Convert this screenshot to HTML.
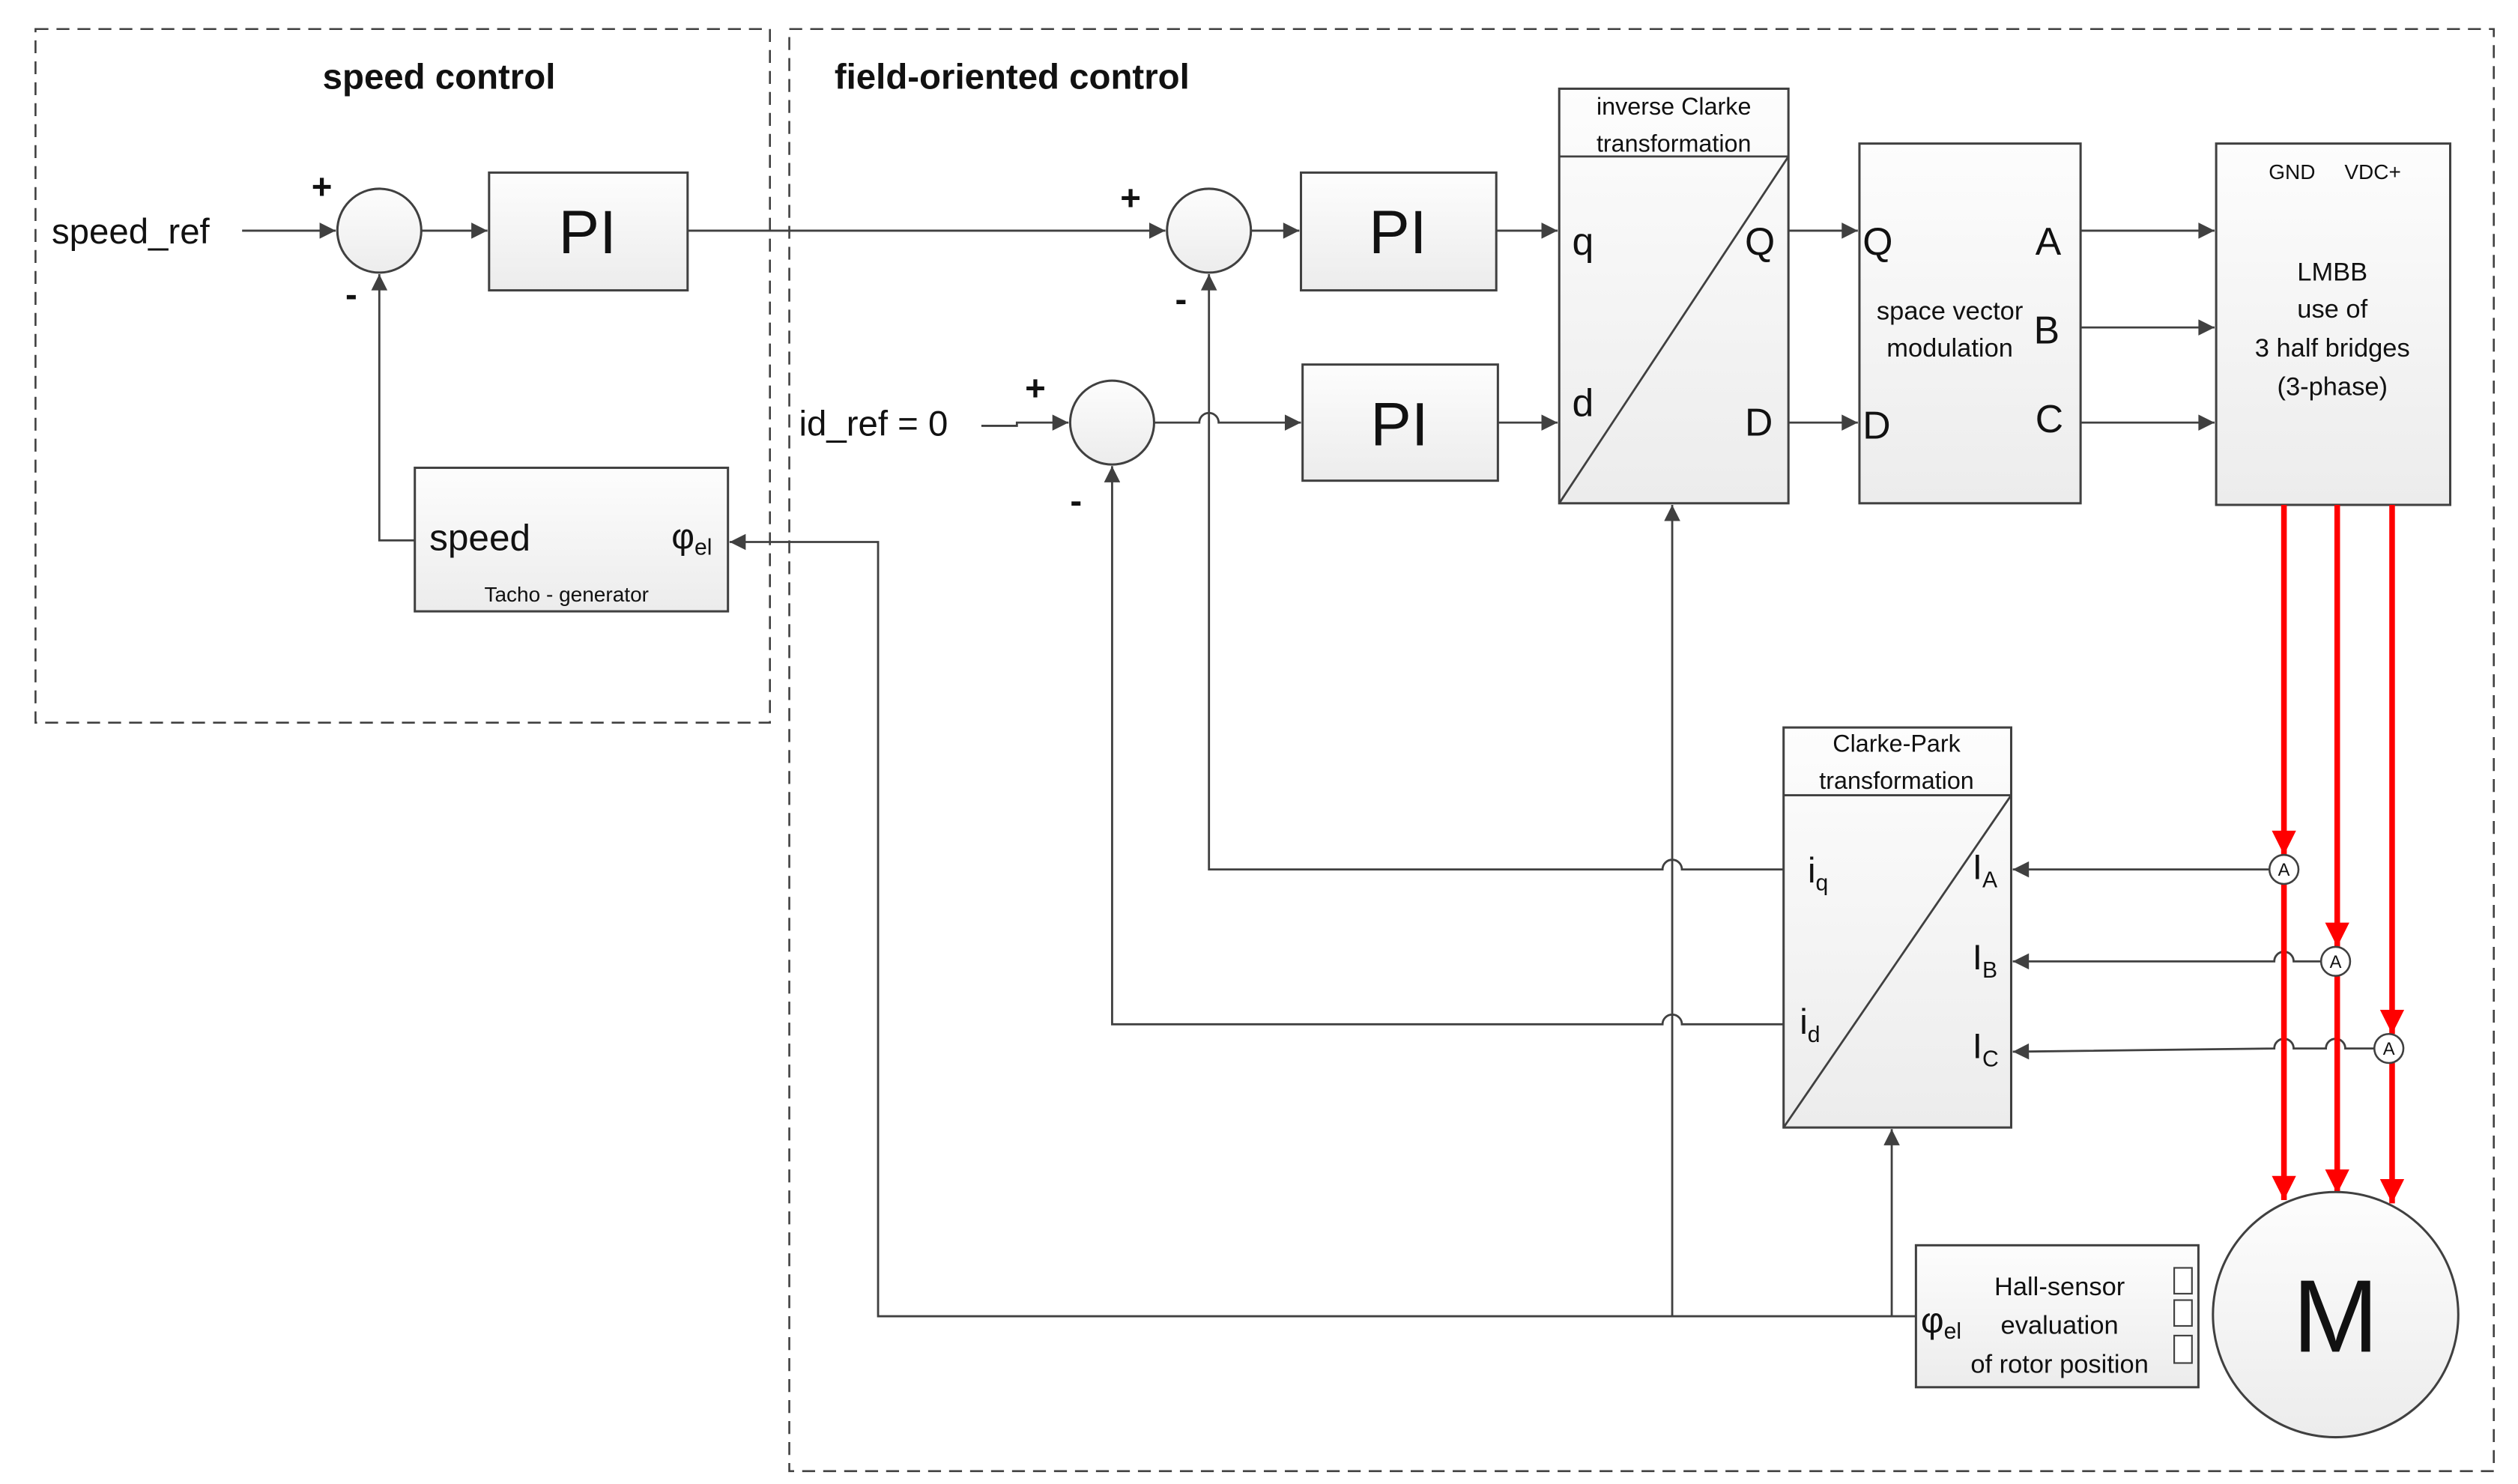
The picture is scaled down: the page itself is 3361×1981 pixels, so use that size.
<!DOCTYPE html>
<html><head><meta charset="utf-8"><style>
html,body{margin:0;padding:0;background:#fff}
svg{display:block}
text{font-family:"Liberation Sans Narrow","Liberation Sans",sans-serif;fill:#111}
</style></head><body>
<svg width="3361" height="1981" viewBox="0 0 1560 920" preserveAspectRatio="none" xmlns="http://www.w3.org/2000/svg">
<defs>
<linearGradient id="g" x1="0" y1="0" x2="0" y2="1"><stop offset="0" stop-color="#fdfdfd"/><stop offset="1" stop-color="#ececec"/></linearGradient>
<marker id="a" viewBox="0 0 10 10" refX="10" refY="5" markerWidth="11" markerHeight="10" orient="auto" markerUnits="userSpaceOnUse"><path d="M0,0 L10,5 L0,10 z" fill="#404040"/></marker>
<marker id="ar" viewBox="0 0 10 10" refX="10" refY="5" markerWidth="16" markerHeight="15" orient="auto" markerUnits="userSpaceOnUse"><path d="M0,0 L10,5 L0,10 z" fill="#f00"/></marker>
</defs>
<style>
.b{fill:url(#g);stroke:#404040;stroke-width:1.4}
.l{fill:none;stroke:#404040;stroke-width:1.3}
.r{fill:none;stroke:#f00;stroke-width:3.5}
.d{fill:none;stroke:#404040;stroke-width:1.2;stroke-dasharray:8,5}
</style>
<rect class="d" x="22" y="18" width="455" height="430"/>
<rect class="d" x="489" y="18" width="1056" height="894"/>
<text x="272" y="55" font-size="22" font-weight="bold" text-anchor="middle" style="font-family:'Liberation Sans',sans-serif">speed control</text>
<text x="517" y="55" font-size="22" font-weight="bold" style="font-family:'Liberation Sans',sans-serif">field-oriented control</text>

<text x="32" y="151" font-size="22">speed_ref</text>
<line class="l" x1="150" y1="143" x2="208" y2="143" marker-end="url(#a)"/>
<ellipse class="b" cx="235" cy="143" rx="26" ry="26"/>
<text x="193" y="123" font-size="22" font-weight="bold">+</text>
<text x="214" y="190" font-size="22" font-weight="bold">-</text>
<line class="l" x1="261" y1="143" x2="302" y2="143" marker-end="url(#a)"/>
<rect class="b" x="303" y="107" width="123" height="73"/>
<text x="364" y="157" font-size="38" text-anchor="middle">PI</text>
<line class="l" x1="426" y1="143" x2="722" y2="143" marker-end="url(#a)"/>

<rect class="b" x="257" y="290" width="194" height="89"/>
<text x="266" y="341" font-size="23">speed</text>
<text x="416" y="340" font-size="22">φ<tspan font-size="14" dy="4">el</tspan></text>
<text x="351" y="373" font-size="13" text-anchor="middle">Tacho - generator</text>
<polyline class="l" points="257,335 235,335 235,170" marker-end="url(#a)"/>

<ellipse class="b" cx="749" cy="143" rx="26" ry="26"/>
<text x="694" y="130" font-size="22" font-weight="bold">+</text>
<text x="728" y="193" font-size="22" font-weight="bold">-</text>
<line class="l" x1="775" y1="143" x2="805" y2="143" marker-end="url(#a)"/>
<rect class="b" x="806" y="107" width="121" height="73"/>
<text x="866" y="157" font-size="38" text-anchor="middle">PI</text>
<line class="l" x1="927" y1="143" x2="965" y2="143" marker-end="url(#a)"/>

<text x="495" y="270" font-size="22">id_ref = 0</text>
<polyline class="l" points="608,264 630,264 630,262 662,262" marker-end="url(#a)"/>
<ellipse class="b" cx="689" cy="262" rx="26" ry="26"/>
<text x="635" y="248" font-size="22" font-weight="bold">+</text>
<text x="663" y="318" font-size="22" font-weight="bold">-</text>
<path class="l" d="M715,262 L743,262 A6,6 0 0 1 755,262 L806,262" marker-end="url(#a)"/>
<rect class="b" x="807" y="226" width="121" height="72"/>
<text x="867" y="276" font-size="38" text-anchor="middle">PI</text>
<line class="l" x1="928" y1="262" x2="965" y2="262" marker-end="url(#a)"/>

<rect class="b" x="966" y="55" width="142" height="257"/>
<line class="l" x1="966" y1="97" x2="1108" y2="97"/>
<line class="l" x1="966" y1="312" x2="1108" y2="97"/>
<text x="1037" y="71" font-size="15" text-anchor="middle">inverse Clarke</text>
<text x="1037" y="94" font-size="15" text-anchor="middle">transformation</text>
<text x="974" y="158" font-size="24">q</text>
<text x="974" y="258" font-size="24">d</text>
<text x="1081" y="158" font-size="24">Q</text>
<text x="1081" y="270" font-size="24">D</text>
<line class="l" x1="1108" y1="143" x2="1151" y2="143" marker-end="url(#a)"/>
<line class="l" x1="1108" y1="262" x2="1151" y2="262" marker-end="url(#a)"/>

<rect class="b" x="1152" y="89" width="137" height="223"/>
<text x="1154" y="158" font-size="24">Q</text>
<text x="1154" y="272" font-size="24">D</text>
<text x="1261" y="158" font-size="24">A</text>
<text x="1260" y="213" font-size="24">B</text>
<text x="1261" y="268" font-size="24">C</text>
<text x="1208" y="198" font-size="16" text-anchor="middle">space vector</text>
<text x="1208" y="221" font-size="16" text-anchor="middle">modulation</text>
<line class="l" x1="1289" y1="143" x2="1372" y2="143" marker-end="url(#a)"/>
<line class="l" x1="1289" y1="203" x2="1372" y2="203" marker-end="url(#a)"/>
<line class="l" x1="1289" y1="262" x2="1372" y2="262" marker-end="url(#a)"/>

<rect class="b" x="1373" y="89" width="145" height="224"/>
<text x="1420" y="111" font-size="13" text-anchor="middle">GND</text>
<text x="1470" y="111" font-size="13" text-anchor="middle">VDC+</text>
<text x="1445" y="174" font-size="16" text-anchor="middle">LMBB</text>
<text x="1445" y="197" font-size="16" text-anchor="middle">use of</text>
<text x="1445" y="221" font-size="16" text-anchor="middle">3 half bridges</text>
<text x="1445" y="245" font-size="16" text-anchor="middle">(3-phase)</text>

<path class="l" d="M1105,539 L1042,539 A6,6 0 0 0 1030,539 L749,539 L749,170" marker-end="url(#a)"/>
<path class="l" d="M1105,635 L1042,635 A6,6 0 0 0 1030,635 L689,635 L689,289" marker-end="url(#a)"/>
<line class="l" x1="1036" y1="816" x2="1036" y2="313" marker-end="url(#a)"/>
<line class="l" x1="1172" y1="816" x2="1172" y2="700" marker-end="url(#a)"/>
<polyline class="l" points="1187,816 544,816 544,336 452,336" marker-end="url(#a)"/>

<rect class="b" x="1105" y="451" width="141" height="248"/>
<line class="l" x1="1105" y1="493" x2="1246" y2="493"/>
<line class="l" x1="1105" y1="699" x2="1246" y2="493"/>
<text x="1175" y="466" font-size="15" text-anchor="middle">Clarke-Park</text>
<text x="1175" y="489" font-size="15" text-anchor="middle">transformation</text>
<text x="1120" y="547" font-size="22">i<tspan font-size="14" dy="5">q</tspan></text>
<text x="1115" y="641" font-size="22">i<tspan font-size="14" dy="5">d</tspan></text>
<text x="1222" y="545" font-size="22">I<tspan font-size="14" dy="5">A</tspan></text>
<text x="1222" y="601" font-size="22">I<tspan font-size="14" dy="5">B</tspan></text>
<text x="1222" y="656" font-size="22">I<tspan font-size="14" dy="5">C</tspan></text>
<line class="l" x1="1406" y1="539" x2="1247" y2="539" marker-end="url(#a)"/>
<path class="l" d="M1438,596 L1421,596 A6,6 0 0 0 1409,596 L1247,596" marker-end="url(#a)"/>
<path class="l" d="M1471,650 L1453,650 A6,6 0 0 0 1441,650 L1421,650 A6,6 0 0 0 1409,650 L1247,652" marker-end="url(#a)"/>

<line class="r" x1="1415" y1="313" x2="1415" y2="530" marker-end="url(#ar)"/>
<line class="r" x1="1415" y1="548" x2="1415" y2="744" marker-end="url(#ar)"/>
<line class="r" x1="1448" y1="313" x2="1448" y2="587" marker-end="url(#ar)"/>
<line class="r" x1="1448" y1="605" x2="1448" y2="740" marker-end="url(#ar)"/>
<line class="r" x1="1482" y1="313" x2="1482" y2="641" marker-end="url(#ar)"/>
<line class="r" x1="1482" y1="659" x2="1482" y2="746" marker-end="url(#ar)"/>
<g text-anchor="middle">
<circle cx="1415" cy="539" r="9" fill="#fff" stroke="#404040" stroke-width="1.2"/><text x="1415" y="543" font-size="11">A</text>
<circle cx="1447" cy="596" r="9" fill="#fff" stroke="#404040" stroke-width="1.2"/><text x="1447" y="600" font-size="11">A</text>
<circle cx="1480" cy="650" r="9" fill="#fff" stroke="#404040" stroke-width="1.2"/><text x="1480" y="654" font-size="11">A</text>
</g>

<rect class="b" x="1187" y="772" width="175" height="88"/>
<text x="1190" y="826" font-size="22">φ<tspan font-size="14" dy="4">el</tspan></text>
<text x="1276" y="803" font-size="16" text-anchor="middle">Hall-sensor</text>
<text x="1276" y="827" font-size="16" text-anchor="middle">evaluation</text>
<text x="1276" y="851" font-size="16" text-anchor="middle">of rotor position</text>
<rect x="1347" y="786" width="11" height="16" fill="#fff" stroke="#404040"/>
<rect x="1347" y="806" width="11" height="16" fill="#fff" stroke="#404040"/>
<rect x="1347" y="828" width="11" height="17" fill="#fff" stroke="#404040"/>

<circle class="b" cx="1447" cy="815" r="76"/>
<text x="1447" y="838" font-size="64" text-anchor="middle" style="font-family:'Liberation Sans',sans-serif">M</text>
</svg>
</body></html>
